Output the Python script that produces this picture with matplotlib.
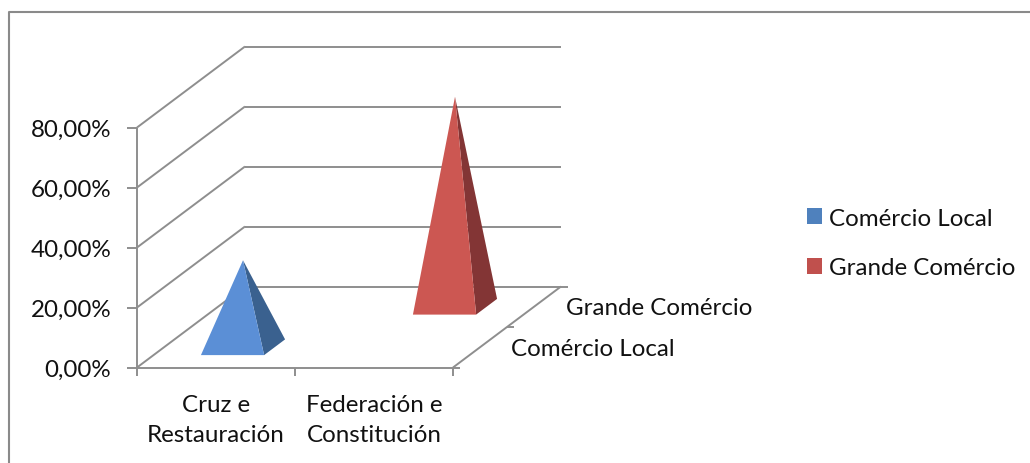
import matplotlib
matplotlib.use('Agg')
import matplotlib.pyplot as plt
from matplotlib.patches import Patch, Polygon

plt.rcParams['font.family'] = ['Lato', 'DejaVu Sans']

categories = ['Cruz e\nRestauración', 'Federación e\nConstitución']
series_names = ['Comércio Local', 'Grande Comércio']
comercio_local = [29, 0]
grande_comercio = [0, 70]
y_ticks = [0, 20, 40, 60, 80]
y_labels = ['0,00%', '20,00%', '40,00%', '60,00%', '80,00%']

front_colors = ['#5B8FD6', '#CC5752']
side_colors = ['#3A618F', '#833535']
legend_colors = ['#4F81BD', '#C0504D']
grid_color = '#8E8E8E'
text_color = '#111111'
font_size = 17.4

# box of the 3d chart, in pixels
x0, y0 = 137, 368.5
plot_w = 316
depth_x, depth_y = 108, 81
px_per_unit = 3


def project(cat, depth, value):
    # cat 0..1 along the front edge, depth 0..1 towards the back wall
    return (x0 + cat * plot_w + depth * depth_x,
            y0 - depth * depth_y - value * px_per_unit)


fig = plt.figure(figsize=(10.3, 4.64), dpi=100)
ax = fig.add_axes([0, 0, 1, 1])
ax.set_xlim(0, 1030)
ax.set_ylim(464, 0)
ax.axis('off')

# chart border, runs off the right and bottom of the picture
ax.plot([9, 9, 1030], [464, 13, 13], color='#8A8A8A', lw=1.5, zorder=1)


def line(a, b, lw=1.4):
    ax.plot([a[0], b[0]], [a[1], b[1]], color=grid_color, lw=lw,
            solid_capstyle='butt', zorder=2)


# gridlines: side wall + back wall
for v in y_ticks:
    line(project(0, 0, v), project(0, 1, v))
    line(project(0, 1, v), project(1, 1, v))
    # tick and label on the value axis
    px, py = project(0, 0, v)
    line((px - 10, py), (px, py))
    ax.text(111, py + 2, y_labels[y_ticks.index(v)], ha='right', va='center',
            fontsize=font_size, color=text_color)

# axis lines
line(project(0, 0, y_ticks[0]), project(0, 0, y_ticks[-1]))
line(project(0, 0, 0), project(1, 0, 0))
line(project(1, 0, 0), project(1, 1, 0))

# category ticks and labels
for i in range(len(categories) + 1):
    px, py = project(i / len(categories), 0, 0)
    line((px, py), (px, py + 8))
for i, name in enumerate(categories):
    px, py = project((i + 0.5) / len(categories), 0, 0)
    ax.text(px, py + 52, name, ha='center', va='center', linespacing=1.58,
            fontsize=font_size, color=text_color)

# series ticks and labels along the depth axis
for i in range(len(series_names) + 1):
    px, py = project(1, i / len(series_names), 0)
    line((px, py), (px + 7, py))
label_x = [511, 566]
label_y = [350, 309]
for i, name in enumerate(series_names):
    ax.text(label_x[i], label_y[i], name, ha='left', va='center',
            fontsize=font_size, color=text_color)

# pyramids, back series first
half_cat = 0.1
half_depth = 0.097
values = [comercio_local, grande_comercio]
for s in [1, 0]:
    depth = (s + 0.5) / len(series_names)
    for c, v in enumerate(values[s]):
        if v == 0:
            continue
        cat = (c + 0.5) / len(categories)
        apex = project(cat, depth, v)
        fl = project(cat - half_cat, depth - half_depth, 0)
        fr = project(cat + half_cat, depth - half_depth, 0)
        br = project(cat + half_cat, depth + half_depth, 0)
        ax.add_patch(Polygon([apex, fr, br], closed=True, facecolor=side_colors[s],
                             edgecolor='none', zorder=3 + 2 * (1 - s)))
        ax.add_patch(Polygon([apex, fl, fr], closed=True, facecolor=front_colors[s],
                             edgecolor='none', zorder=4 + 2 * (1 - s)))

handles = [Patch(facecolor=legend_colors[i], edgecolor='none', label=series_names[i])
           for i in range(len(series_names))]
ax.legend(handles=handles, loc='center left', bbox_to_anchor=(800 / 1030, 1 - 244 / 464),
          frameon=False, fontsize=font_size, labelcolor=text_color, handlelength=0.63,
          handleheight=0.63, handletextpad=0.29, labelspacing=1.17, borderaxespad=0,
          borderpad=0.3)

fig.savefig('out.png', dpi=100)
